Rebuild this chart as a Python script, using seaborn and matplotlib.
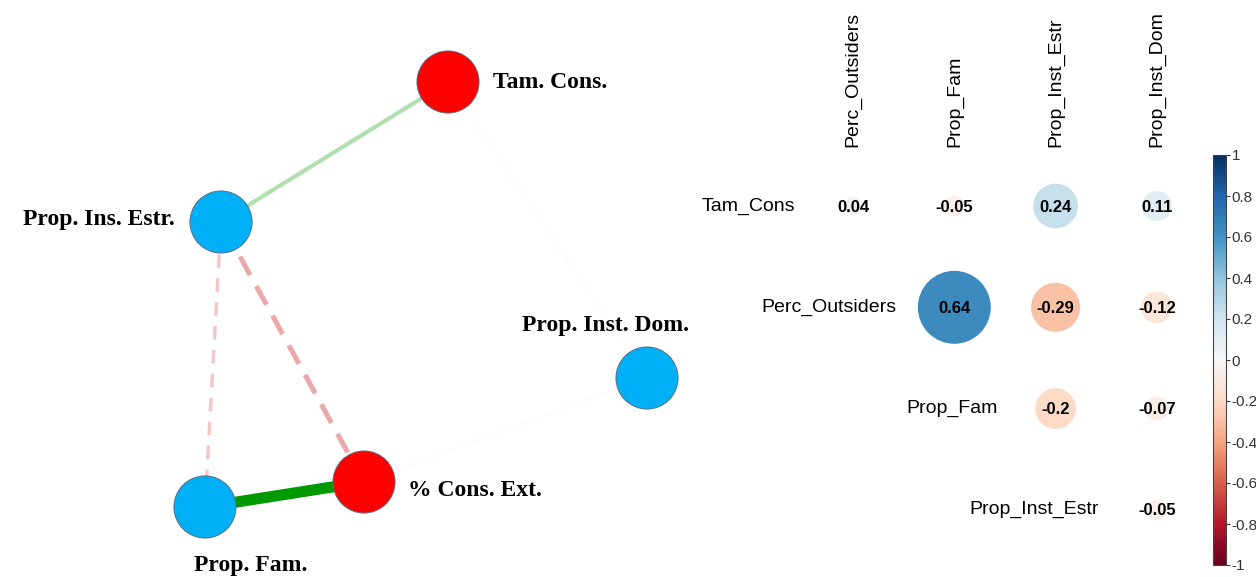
import numpy as np
import pandas as pd
import matplotlib
matplotlib.use("Agg")
import matplotlib.pyplot as plt
import matplotlib.colors as mcolors
import seaborn as sns

plt.rcParams["axes.unicode_minus"] = False

# correlation pairs (upper triangle)
var_a = ["Tam_Cons", "Tam_Cons", "Tam_Cons", "Tam_Cons",
         "Perc_Outsiders", "Perc_Outsiders", "Perc_Outsiders",
         "Prop_Fam", "Prop_Fam", "Prop_Inst_Estr"]
var_b = ["Perc_Outsiders", "Prop_Fam", "Prop_Inst_Estr", "Prop_Inst_Dom",
         "Prop_Fam", "Prop_Inst_Estr", "Prop_Inst_Dom",
         "Prop_Inst_Estr", "Prop_Inst_Dom", "Prop_Inst_Dom"]
r_values = [0.04, -0.05, 0.24, 0.11, 0.64, -0.29, -0.12, -0.2, -0.07, -0.05]

row_vars = ["Tam_Cons", "Perc_Outsiders", "Prop_Fam", "Prop_Inst_Estr"]
col_vars = ["Perc_Outsiders", "Prop_Fam", "Prop_Inst_Estr", "Prop_Inst_Dom"]

# network nodes
node_vars = ["Tam_Cons", "Prop_Inst_Estr", "Prop_Inst_Dom", "Perc_Outsiders", "Prop_Fam"]
node_labels = ["Tam. Cons.", "Prop. Ins. Estr.", "Prop. Inst. Dom.", "% Cons. Ext.", "Prop. Fam."]
node_group = ["red", "blue", "blue", "red", "blue"]

# network layout (pixel-like units)
node_x = [448, 221, 647, 364, 205]
node_y = [82, 222, 378, 482, 507]
label_x = [493, 175, 605, 408, 251]
label_y = [82, 220, 326, 491, 565]
label_ha = ["left", "right", "center", "left", "center"]

W, H = 1256, 577
fig = plt.figure(figsize=(W / 100, H / 100), dpi=100)
fig.patch.set_facecolor("white")

serif = ["Liberation Serif", "DejaVu Serif"]
sans = ["Liberation Sans", "DejaVu Sans"]

# ---------------- network ----------------
ax = fig.add_axes([0, 0, 700 / W, 1])
ax.set_xlim(0, 700)
ax.set_ylim(577, 0)
ax.axis("off")

pos = {v: (x, y) for v, x, y in zip(node_vars, node_x, node_y)}
r_max = max(abs(r) for r in r_values)
for a, b, r in zip(var_a, var_b, r_values):
    if abs(r) < 0.1:
        continue
    base = np.array(mcolors.to_rgb("#009900" if r > 0 else "#c81e1e"))
    if abs(r) < 0.15:
        # very weak edges: barely visible hairlines
        col = 1 - 0.07 * (1 - base)
        lw, ls = 0.8, (0, (1, 1.5))
    else:
        fade = (abs(r) / r_max) ** 1.2
        col = 1 - fade * (1 - base)
        lw = 12.5 * abs(r)
        if r > 0:
            ls = "-"
        elif abs(r) > 0.25:
            ls = (0, (4.2, 2.5))
        else:
            ls = (0, (3.9, 3.0))
    (x1, y1), (x2, y2) = pos[a], pos[b]
    ax.plot([x1, x2], [y1, y2], color=col, lw=lw, linestyle=ls,
            solid_capstyle="butt", dash_capstyle="butt", zorder=1)

nodes = pd.DataFrame({"x": node_x, "y": node_y, "group": node_group})
sns.scatterplot(data=nodes, x="x", y="y", hue="group",
                palette={"red": "#ff0000", "blue": "#00b0f6"},
                s=2000, edgecolor="#5a6e80", linewidth=0.7,
                legend=False, ax=ax, zorder=3)
ax.set_xlabel("")
ax.set_ylabel("")

for lab, lx, ly, ha in zip(node_labels, label_x, label_y, label_ha):
    ax.text(lx, ly, lab, ha=ha, va="center", fontsize=17, fontweight="bold",
            family=serif, color="black")

# ---------------- correlation plot ----------------
cell = 101.3
x0, y0 = 853, 206
ax2 = fig.add_axes([690 / W, 0, 520 / W, 1])
ax2.set_xlim((690 - x0) / cell, (1210 - x0) / cell)
ax2.set_ylim((577 - y0) / cell, (0 - y0) / cell)
ax2.axis("off")

corr = pd.DataFrame({"row": var_a, "col": var_b, "r": r_values})
corr = corr[corr["row"].isin(row_vars) & corr["col"].isin(col_vars)].copy()
corr["xi"] = corr["col"].map({v: i for i, v in enumerate(col_vars)})
corr["yi"] = corr["row"].map({v: i for i, v in enumerate(row_vars)})
corr["absr"] = corr["r"].abs()

dmax = 0.9 * cell * 0.72
sns.scatterplot(data=corr, x="xi", y="yi", hue="r", palette="RdBu",
                hue_norm=(-1, 1), size="absr", sizes=(0, dmax ** 2),
                size_norm=(0, 1), linewidth=0, legend=False, ax=ax2,
                clip_on=False)
ax2.set_xlabel("")
ax2.set_ylabel("")

for _, row in corr.iterrows():
    txt = f"{row['r']:.2f}".rstrip("0").rstrip(".")
    ax2.text(row["xi"], row["yi"] + 0.01, txt, ha="center", va="center",
             fontsize=12, fontweight="bold", family=sans, color="black")

for i, v in enumerate(col_vars):
    ax2.text(i, -0.58, v, rotation=90, ha="center", va="bottom",
             fontsize=14, family=sans, color="black")
for j, v in enumerate(row_vars):
    ax2.text(j - 0.57, j, v, ha="right", va="center",
             fontsize=14, family=sans, color="black")

# colorbar
cax = fig.add_axes([1213 / W, 1 - 565 / H, 13 / W, 410 / H])
cb = matplotlib.colorbar.ColorbarBase(cax, cmap=plt.get_cmap("RdBu"),
                                      norm=mcolors.Normalize(-1, 1))
ticks = np.round(np.arange(-1, 1.01, 0.2), 1) + 0.0
cb.set_ticks(ticks)
cb.set_ticklabels(["0" if abs(t) < 1e-9 else f"{t:g}" for t in ticks])
cax.tick_params(labelsize=11, length=3, width=0.8, colors="#333333", pad=1)
for t in cax.get_yticklabels():
    t.set_family(sans)
cb.outline.set_edgecolor("#444444")
cb.outline.set_linewidth(0.8)

fig.savefig("out.png", dpi=100, facecolor="white")
